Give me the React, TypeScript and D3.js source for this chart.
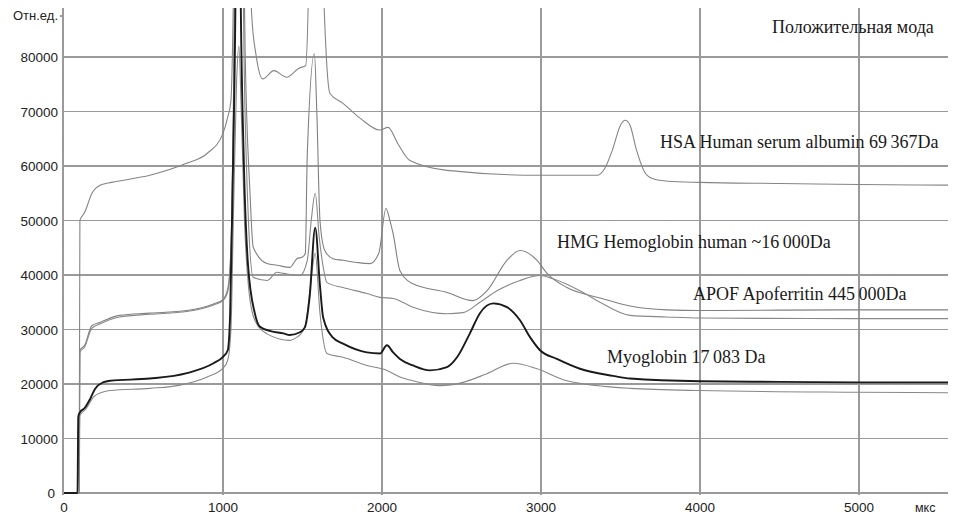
import React from "react";
import * as d3 from "d3";

const W = 962;
const H = 523;

const xTicks = [0, 1000, 2000, 3000, 4000, 5000];
const yTicks = [0, 10000, 20000, 30000, 40000, 50000, 60000, 70000, 80000];
const yTickLabels = ["0", "10000", "20000", "30000", "40000", "50000", "60000", "70000", "80000"];
const xTickLabels = ["0", "1000", "2000", "3000", "4000", "5000"];

// HSA Human serum albumin
const hsaT = [0, 95, 100, 130, 176, 230, 300, 540, 770, 900, 1000, 1030, 1050, 1065, 1100, 1150, 1180, 1210, 1250, 1320, 1400, 1480, 1520, 1540, 1580, 1630, 1650, 1673, 1755, 1862, 1987, 2038, 2100, 2176, 2409, 2994, 3352, 3400, 3450, 3500, 3530, 3560, 3600, 3650, 3700, 3800, 4000, 4500, 5000, 5560];
const hsaV = [0, 0, 50000, 51500, 55000, 56500, 57000, 58300, 60500, 62300, 66000, 69000, 72000, 90000, 200000, 120000, 88000, 80000, 76000, 77500, 76300, 78000, 78400, 95000, 200000, 95000, 80000, 73300, 71500, 68800, 66600, 67100, 64100, 61000, 59200, 58300, 58300, 59500, 63000, 67500, 68400, 67500, 63000, 59000, 57700, 57200, 57000, 56800, 56600, 56500];

// HMG Hemoglobin
const hmgT = [0, 95, 100, 130, 175, 225, 350, 540, 773, 940, 1000, 1030, 1050, 1065, 1100, 1140, 1170, 1190, 1277, 1340, 1420, 1465, 1500, 1518, 1530, 1575, 1590, 1610, 1640, 1692, 1755, 1843, 1924, 1980, 2025, 2050, 2070, 2113, 2195, 2409, 2572, 2660, 2786, 2868, 2975, 3038, 3163, 3371, 3560, 3790, 4000, 5000, 5560];
const hmgV = [0, 0, 26200, 27100, 30700, 31300, 32600, 33000, 33500, 34700, 35500, 37500, 45000, 70000, 180000, 80000, 55000, 45100, 42100, 41800, 41400, 43000, 43300, 44000, 62000, 80600, 70000, 50000, 44500, 43000, 42700, 42300, 42100, 44000, 52200, 50000, 47600, 40800, 38400, 36800, 35300, 37100, 42700, 44500, 42700, 40300, 37700, 35800, 34300, 33600, 33500, 33600, 33600];

// APOF Apoferritin
const apofT = [0, 95, 100, 130, 175, 225, 350, 540, 773, 940, 1000, 1030, 1050, 1065, 1100, 1135, 1160, 1190, 1277, 1340, 1380, 1484, 1530, 1555, 1580, 1605, 1630, 1654, 1755, 1905, 1987, 2070, 2195, 2409, 2510, 2616, 2723, 2868, 2994, 3076, 3245, 3371, 3560, 3790, 4000, 5000, 5560];
const apofV = [0, 0, 25800, 26800, 30200, 31000, 32300, 32800, 33300, 34500, 35300, 37000, 44000, 68000, 160000, 75000, 50000, 39600, 39000, 40500, 40300, 39900, 42700, 50000, 55000, 47000, 41500, 38600, 37700, 36600, 35900, 35700, 34100, 32900, 33100, 35000, 37100, 39000, 39900, 39300, 37100, 35000, 32600, 32300, 32100, 32000, 32000];

// Myoglobin (bold)
const myoT = [0, 85, 90, 100, 130, 165, 195, 245, 290, 540, 773, 940, 1000, 1030, 1045, 1060, 1080, 1095, 1110, 1130, 1157, 1200, 1233, 1300, 1380, 1420, 1484, 1515, 1545, 1580, 1610, 1630, 1692, 1755, 1905, 1987, 2031, 2070, 2113, 2195, 2302, 2409, 2472, 2553, 2616, 2700, 2786, 2868, 2931, 2994, 3100, 3245, 3453, 3560, 4000, 4500, 5000, 5560];
const myoV = [0, 0, 14000, 14800, 15600, 17300, 19100, 20300, 20600, 21000, 22000, 23800, 25000, 26200, 33000, 55000, 95000, 160000, 95000, 62000, 42000, 33000, 30500, 29700, 29300, 29000, 29500, 30400, 36000, 48700, 38000, 32200, 28500, 27400, 25800, 25600, 27100, 25800, 24600, 23400, 22500, 23100, 24900, 29300, 33000, 34800, 34100, 31700, 28600, 26200, 24600, 22800, 21500, 21000, 20500, 20400, 20300, 20300];

// Lower grey curve
const lowT = [0, 95, 100, 140, 185, 240, 290, 540, 730, 900, 1000, 1030, 1050, 1065, 1085, 1100, 1115, 1135, 1160, 1200, 1277, 1420, 1465, 1484, 1520, 1550, 1580, 1610, 1654, 1755, 1905, 2031, 2113, 2195, 2365, 2510, 2660, 2825, 2975, 3163, 3560, 4000, 5000, 5560];
const lowV = [0, 0, 14200, 15500, 17600, 18500, 18800, 19200, 19800, 21300, 22900, 24400, 30000, 50000, 75000, 82000, 70000, 50000, 38000, 31700, 29200, 28000, 28600, 29000, 31000, 38000, 44000, 33000, 25600, 24900, 23400, 22500, 21300, 20600, 19700, 20300, 21900, 23800, 22800, 20600, 19200, 18800, 18500, 18400];

const labels = [
  { text: "Положительная мода", x: 772, y: 33, size: 18 },
  { text: "HSA Human serum albumin 69\u2009367Da", x: 660, y: 148, size: 18 },
  { text: "HMG Hemoglobin human ~16\u2009000Da", x: 557, y: 248, size: 18 },
  { text: "APOF Apoferritin 445\u2009000Da", x: 693, y: 300, size: 18 },
  { text: "Myoglobin 17\u2009083 Da", x: 607, y: 363, size: 18 },
];

export default function App() {
  const left = 64, right = 948, top = 8, bottom = 493;
  const x = d3.scaleLinear().domain([0, 5560]).range([left, right]);
  const y = d3.scaleLinear().domain([0, 89000]).range([bottom, top]);

  const mk = (ts: number[], vs: number[]) =>
    d3
      .line<number>()
      .x((_, i) => x(ts[i]))
      .y((v) => y(v))
      .curve(d3.curveMonotoneX)(vs) || "";

  const grid = "#9a9a9a";
  const series = [
    { d: mk(hsaT, hsaV), c: "#858585", w: 1.1 },
    { d: mk(hmgT, hmgV), c: "#808080", w: 1.1 },
    { d: mk(apofT, apofV), c: "#888888", w: 1.1 },
    { d: mk(lowT, lowV), c: "#888888", w: 1.1 },
    { d: mk(myoT, myoV), c: "#1a1a1a", w: 1.9 },
  ];

  return (
    <svg width={W} height={H} style={{ position: "absolute", left: 0, top: 0, background: "#fff" }}>
      <defs>
        <clipPath id="plot">
          <rect x={left - 1} y={top} width={right - left + 2} height={bottom - top + 2} />
        </clipPath>
      </defs>
      <g shapeRendering="crispEdges">
        {yTicks.map((t) => (
          <line key={"h" + t} x1={left - 1} x2={right} y1={y(t)} y2={y(t)} stroke={grid} strokeWidth={1.2} />
        ))}
        {xTicks.map((t) => (
          <line key={"v" + t} x1={x(t) - (t === 0 ? 1 : 0)} x2={x(t) - (t === 0 ? 1 : 0)} y1={top} y2={bottom + 2} stroke={grid} strokeWidth={1.2} />
        ))}
        <line x1={left - 4} x2={left} y1={16} y2={16} stroke={grid} strokeWidth={1.2} />
      </g>
      <g clipPath="url(#plot)" fill="none">
        {series.map((s, i) => (
          <path key={i} d={s.d} stroke={s.c} strokeWidth={s.w} strokeLinejoin="round" />
        ))}
      </g>
      <g fontFamily="'Liberation Sans', Arial, sans-serif" fontSize={13.5} fill="#222">
        {yTicks.map((t, i) => (
          <text key={"yl" + t} x={t === 0 ? 55 : 58} y={y(t) + 5} textAnchor="end">
            {yTickLabels[i]}
          </text>
        ))}
        {xTicks.map((t, i) => (
          <text key={"xl" + t} x={x(t)} y={512} textAnchor="middle">
            {xTickLabels[i]}
          </text>
        ))}
        <text x={13} y={20} fontSize={13}>Отн.ед.</text>
        <text x={915} y={512} fontSize={12.5}>мкс</text>
      </g>
      <g fontFamily="'Liberation Serif', 'Times New Roman', serif" fill="#1a1a1a">
        {labels.map((l) => (
          <text key={l.text} x={l.x} y={l.y} fontSize={l.size}>
            {l.text}
          </text>
        ))}
      </g>
    </svg>
  );
}
